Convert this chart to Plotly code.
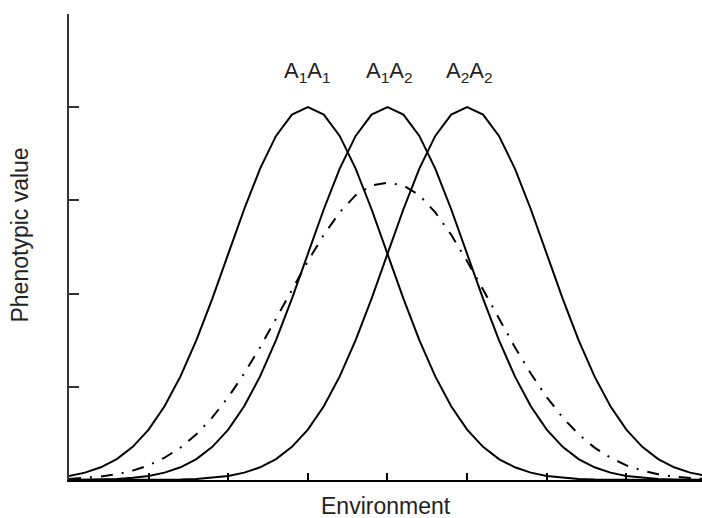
import plotly.graph_objects as go

# Environment grid (x) and phenotypic values
environment = [0.0, 0.2, 0.4, 0.6, 0.8, 1.0, 1.2, 1.4, 1.6, 1.8,
               2.0, 2.2, 2.4, 2.6, 2.8, 3.0, 3.2, 3.4, 3.6, 3.8,
               4.0, 4.2, 4.4, 4.6, 4.8, 5.0, 5.2, 5.4, 5.6, 5.8,
               6.0, 6.2, 6.4, 6.6, 6.8, 7.0, 7.2, 7.4, 7.6, 7.8, 8.0]

a1a1 = [0.044, 0.079, 0.136, 0.225, 0.356, 0.541, 0.792, 1.112, 1.501, 1.947,
        2.426, 2.905, 3.341, 3.692, 3.921, 4.000, 3.921, 3.692, 3.341, 2.905,
        2.426, 1.947, 1.501, 1.112, 0.792, 0.541, 0.356, 0.225, 0.136, 0.079,
        0.044, 0.024, 0.012, 0.006, 0.003, 0.001, 0.001, 0.0, 0.0, 0.0, 0.0]

a1a2 = [0.001, 0.003, 0.006, 0.012, 0.024, 0.044, 0.079, 0.136, 0.225, 0.356,
        0.541, 0.792, 1.112, 1.501, 1.947, 2.426, 2.905, 3.341, 3.692, 3.921,
        4.000, 3.921, 3.692, 3.341, 2.905, 2.426, 1.947, 1.501, 1.112, 0.792,
        0.541, 0.356, 0.225, 0.136, 0.079, 0.044, 0.024, 0.012, 0.006, 0.003, 0.001]

a2a2 = [0.0, 0.0, 0.0, 0.0, 0.001, 0.001, 0.003, 0.006, 0.012, 0.024,
        0.044, 0.079, 0.136, 0.225, 0.356, 0.541, 0.792, 1.112, 1.501, 1.947,
        2.426, 2.905, 3.341, 3.692, 3.921, 4.000, 3.921, 3.692, 3.341, 2.905,
        2.426, 1.947, 1.501, 1.112, 0.792, 0.541, 0.356, 0.225, 0.136, 0.079, 0.044]

population_mean = [0.012, 0.021, 0.037, 0.062, 0.101, 0.157, 0.239, 0.348, 0.491, 0.671,
                   0.889, 1.142, 1.425, 1.730, 2.043, 2.348, 2.631, 2.872, 3.056, 3.160,
                   3.190, 3.160, 3.056, 2.872, 2.631, 2.348, 2.043, 1.730, 1.425, 1.142,
                   0.889, 0.671, 0.491, 0.348, 0.239, 0.157, 0.101, 0.062, 0.037, 0.021, 0.012]

genotype_labels = ["A<sub>1</sub>A<sub>1</sub>", "A<sub>1</sub>A<sub>2</sub>", "A<sub>2</sub>A<sub>2</sub>"]
genotype_label_x = [3.0, 4.03, 5.03]
genotype_label_y = [4.38, 4.38, 4.38]

x_ticks = [1, 2, 3, 4, 5, 6, 7]
y_ticks = [1, 2, 3, 4, 5]

FONT = "Liberation Sans, Arial, sans-serif"

fig = go.Figure()
for ys in (a1a1, a1a2, a2a2):
    fig.add_trace(go.Scatter(x=environment, y=ys, mode="lines",
                             line=dict(color="black", width=2),
                             showlegend=False, hoverinfo="skip"))
fig.add_trace(go.Scatter(x=environment, y=population_mean, mode="lines",
                         line=dict(color="black", width=2, dash="12px,9px,2px,9px"),
                         showlegend=False, hoverinfo="skip"))

for txt, xv, yv in zip(genotype_labels, genotype_label_x, genotype_label_y):
    fig.add_annotation(x=xv, y=yv, text=txt, showarrow=False,
                       xanchor="center", yanchor="middle",
                       font=dict(family=FONT, size=22, color="#222"))

# Axis titles as annotations for precise placement
fig.add_annotation(xref="paper", yref="paper", x=0.5, y=-0.056,
                   text="Environment", showarrow=False,
                   xanchor="center", yanchor="middle",
                   font=dict(family=FONT, size=23, color="#222"))
fig.add_annotation(xref="paper", yref="paper", x=-0.078, y=0.526,
                   text="Phenotypic value", showarrow=False, textangle=-90,
                   xanchor="center", yanchor="middle",
                   font=dict(family=FONT, size=23, color="#222"))

fig.update_layout(
    width=702, height=518,
    margin=dict(l=69, r=0, t=14, b=38),
    paper_bgcolor="white", plot_bgcolor="white",
    font=dict(family=FONT, color="#222"),
)
fig.update_xaxes(range=[0, 7.95], showgrid=False, zeroline=False,
                 showline=True, linecolor="black", linewidth=2,
                 tickvals=x_ticks, showticklabels=False,
                 ticks="inside", ticklen=7, tickwidth=1.5, tickcolor="black")
fig.update_yaxes(range=[0, 5], showgrid=False, zeroline=False,
                 showline=True, linecolor="#333", linewidth=2,
                 tickvals=y_ticks, showticklabels=False,
                 ticks="inside", ticklen=10, tickwidth=1.5, tickcolor="#333")

fig.write_html("out.html")
